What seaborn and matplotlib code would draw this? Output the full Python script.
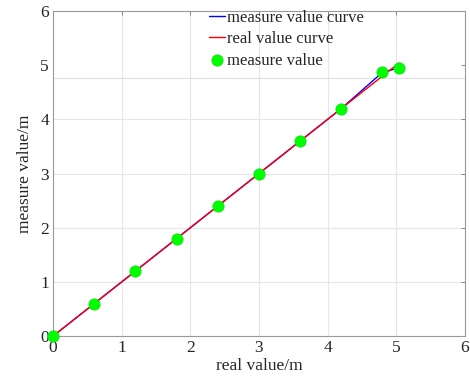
import numpy as np
import pandas as pd
import matplotlib
matplotlib.use("Agg")
import matplotlib.pyplot as plt
import seaborn as sns

real_values = [0, 0.6, 1.2, 1.8, 2.4, 3.0, 3.6, 4.2, 4.8, 5.04]
measure_values = [0, 0.6, 1.2, 1.8, 2.4, 3.0, 3.6, 4.2, 4.87, 4.95]
ticks = [0, 1, 2, 3, 4, 5, 6]

sns.set_style("white")
plt.rcParams['font.family'] = ['Liberation Serif', 'DejaVu Serif']

df = pd.DataFrame({"real": real_values, "measure": measure_values})

fig = plt.figure(figsize=(4.7, 3.81), dpi=100)
ax = fig.add_axes([0.113, 0.118, 0.876, 0.853])

# grid
for t in ticks[1:-1]:
    ax.axvline(t, color='#e6e6e6', lw=0.8, zorder=0)
for t in ticks[1:-2]:
    ax.axhline(t, color='#e6e6e6', lw=0.8, zorder=0)
ax.axhline(4.76, color='#e0e0e0', lw=0.8, zorder=0)

sns.lineplot(data=df, x="real", y="measure", color=(0, 0, 1), lw=1.0,
             label="measure value curve", ax=ax, sort=False, zorder=2)
sns.lineplot(data=df, x="real", y="real", color=(1, 0, 0), lw=1.0,
             label="real value curve", ax=ax, sort=False, zorder=3)
sns.scatterplot(data=df, x="real", y="measure", color=(0, 1, 0), s=66,
                edgecolor=(0, 0.9, 0), linewidth=0.5, label="measure value",
                ax=ax, zorder=4, clip_on=False)

ax.set_xlim(0, 6)
ax.set_ylim(0, 6)
ax.set_xticks(ticks)
ax.set_yticks(ticks)
ax.set_xticklabels([str(t) for t in ticks])
ax.set_yticklabels([str(t) for t in ticks])
ax.tick_params(direction='in', length=3, width=0.6, color='#777777',
               labelsize=12.5, top=True, right=True, pad=3)
for s in ax.spines.values():
    s.set_color('#999999')
    s.set_linewidth(0.8)

ax.set_xlabel("real value/m", fontsize=12.5, labelpad=1)
ax.set_ylabel("measure value/m", fontsize=12.5, labelpad=5)

leg = ax.legend(loc='upper left', bbox_to_anchor=(0.362, 1.024), frameon=False,
                fontsize=12, handlelength=1.0, handletextpad=0.1,
                labelspacing=0.32, borderaxespad=0)

fig.savefig("out.png", dpi=100)
